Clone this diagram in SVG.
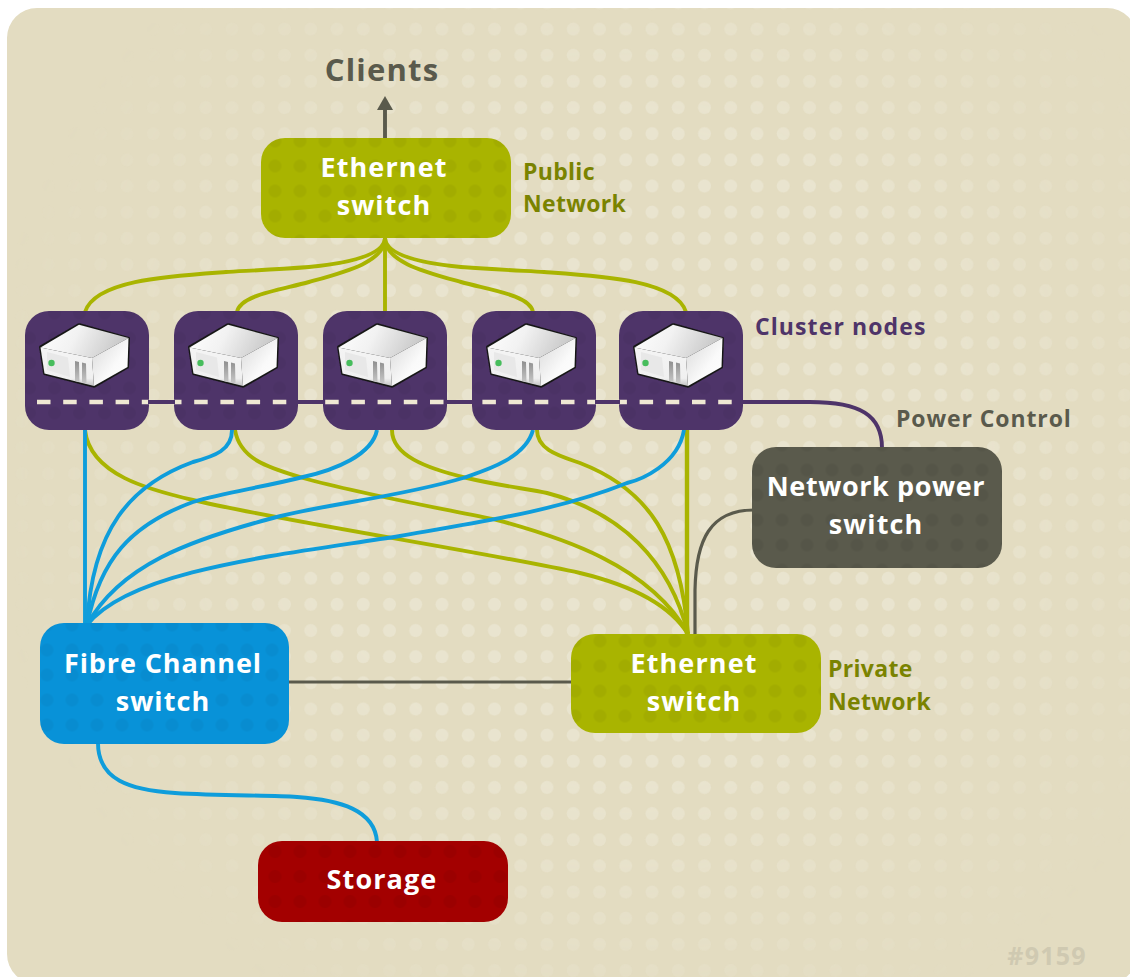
<svg xmlns="http://www.w3.org/2000/svg" width="1130" height="977" viewBox="0 0 1130 977">
<style>
.t{font-family:"Open Sans","Liberation Sans",sans-serif;font-weight:700;text-anchor:middle}
.w{fill:#fff;font-size:27px;letter-spacing:1.1px}
.w2{letter-spacing:.6px}
.o{fill:#7a8300;font-size:23px;letter-spacing:.3px;text-anchor:start}
.p{fill:#4e3469;font-size:23px;letter-spacing:1.1px;text-anchor:start}
.g{fill:#5a5a4c;font-size:23px;letter-spacing:.9px;text-anchor:start}
.c{fill:none;stroke-width:3.9}
.lime{stroke:#a9b400}.blue{stroke:#0f9ddb}.dark{stroke:#5a5a4c}.pur{stroke:#4e3469}
.n{rx:24px}
</style>
<defs>
<pattern id="dots" width="26.25" height="26.15" patternUnits="userSpaceOnUse" x="9" y="16"><circle cx="13" cy="13" r="6.5" fill="#e9e4cf"/></pattern>
<pattern id="d-eth" width="25" height="25" patternUnits="userSpaceOnUse" x="-12.5" y="3.5"><circle cx="12.5" cy="12.5" r="6.5" fill="#000" fill-opacity=".045"/></pattern>
<pattern id="d-fc" width="25" height="25" patternUnits="userSpaceOnUse" x="9.5" y="-12.5"><circle cx="12.5" cy="12.5" r="6.5" fill="#000" fill-opacity=".04"/></pattern>
<pattern id="d-st" width="25" height="25" patternUnits="userSpaceOnUse" x="-12.5" y="-11"><circle cx="12.5" cy="12.5" r="6.5" fill="#000" fill-opacity=".05"/></pattern>
<pattern id="d-pw" width="25" height="25" patternUnits="userSpaceOnUse" x="-5.5" y="7.5"><circle cx="12.5" cy="12.5" r="6.5" fill="#000" fill-opacity=".05"/></pattern>
<pattern id="d-pu" width="25" height="25" patternUnits="userSpaceOnUse" x="-8" y="0.5"><circle cx="12.5" cy="12.5" r="6.5" fill="#000" fill-opacity=".035"/></pattern>
<radialGradient id="fade" gradientUnits="userSpaceOnUse" cx="620" cy="450" r="640"><stop offset="0" stop-color="#fff"/><stop offset=".5" stop-color="#fff"/><stop offset="1" stop-color="#000"/></radialGradient>
<mask id="m"><rect width="1130" height="977" fill="url(#fade)"/></mask>
<filter id="soft" x="-10%" y="-10%" width="120%" height="120%"><feGaussianBlur stdDeviation=".6"/></filter>
<linearGradient id="top" x1="0" y1="0" x2="1" y2="0.2"><stop offset="0" stop-color="#fff"/><stop offset=".45" stop-color="#f2f2f2"/><stop offset="1" stop-color="#c8c8c8"/></linearGradient>
<linearGradient id="side" x1="0" y1="0" x2="1" y2="1"><stop offset="0" stop-color="#d8d8d8"/><stop offset=".6" stop-color="#fafafa"/><stop offset="1" stop-color="#fff"/></linearGradient>
<linearGradient id="front" x1="0" y1="0" x2="0" y2="1"><stop offset="0" stop-color="#f4f4f4"/><stop offset=".8" stop-color="#f0f0f0"/><stop offset="1" stop-color="#c4c4c4"/></linearGradient>
<linearGradient id="slot" x1="0" y1="0" x2="0" y2="1"><stop offset="0" stop-color="#8f8f8f"/><stop offset="1" stop-color="#c8c8c8"/></linearGradient>
<symbol id="srv" width="92" height="66" viewBox="0 0 92 66" overflow="visible">
<g filter="url(#soft)">
<path d="M0 24 Q0 23 1 22.5 L39 0.5 Q40 0 41 0.3 L90 14 Q91 14.3 91 15 L90 44 Q90 45 89 45.5 L57 64 Q56 65 54 64.5 L5 52 Q4 51.5 4 50 Z" fill="#181818"/>
<path d="M1.5 24.5 L40 1.8 L89.5 15 L53 35 Z" fill="url(#top)"/>
<path d="M53 35 L89.5 15 L88.5 44 L55 63 Z" fill="url(#side)"/>
<path d="M1.5 24.5 L53 35 L55 63 L5.5 50.5 Z" fill="url(#front)"/>
<path d="M8 29 L29 34.5 L31 54 L8 47 Z" fill="#e8e8e8"/>
<circle cx="12.5" cy="40" r="3.2" fill="#46bd5c"/>
<path d="M36 38 L40 39 L40.5 59 L36 58 Z M43 39.5 L47 40.5 L47.5 60.5 L43 59.5 Z" fill="url(#slot)"/>
</g>
</symbol>
</defs>
<rect width="1130" height="977" fill="#fff"/>
<rect id="bg" x="7" y="8" width="1130" height="976" rx="30" fill="#e3dcc1"/>
<rect x="7" y="8" width="1123" height="969" fill="url(#dots)" mask="url(#m)"/>

<g id="connectors">
<path class="c dark" d="M385 140 V106"/>
<path d="M385 96 L393 110 H377 Z" fill="#5a5a4c"/>
<g class="c lime">
<path d="M385 238 C384 255 350 263 309 267 C270 270 240 271 226 272 C170 276 95 280 85 312"/>
<path d="M385 238 C385 262 345 272 309 282 C280 290 240 295 237 312"/>
<path d="M385 238 V312"/>
<path d="M385 238 C385 262 425 272 461 282 C490 290 530 295 533 312"/>
<path d="M385 238 C386 255 420 263 461 267 C500 270 530 271 544 272 C600 276 676 280 686 312"/>
<path d="M85 430 C90 475 150 490 193 500 C260 517 500 555 580 573 C630 585 670 605 688 634"/>
<path d="M235 430 C240 460 270 468 303 478 C360 494 450 510 497 520 C560 537 650 565 688 634"/>
<path d="M392 430 C392 455 425 468 467 478 C500 486 530 489 547 493 C620 512 670 560 688 634"/>
<path d="M537 430 C537 450 560 456 580 463 C650 490 680 540 688 634"/>
<path d="M687 430 V634" stroke-width="4.4"/>
</g>
<g class="c blue">
<path d="M85 430 V625"/>
<path d="M232 430 C232 450 215 456 193 462 C130 485 92 530 87 625"/>
<path d="M377 430 C372 455 335 470 303 477 C260 488 225 492 193 502 C130 525 100 560 87 625"/>
<path d="M533 430 C525 460 480 472 463 478 C400 497 320 505 273 518 C190 540 120 565 87 625"/>
<path d="M684 430 C678 465 640 480 627 483 C560 510 480 522 400 536 C280 555 130 570 87 625"/>
<path d="M98 743 C98 780 130 790 175 793 C220 796 270 795 297 797 C340 800 375 810 377 842"/>
</g>
<path class="c pur" d="M742 402 H810 C860 402 882 415 882 448"/>
<path class="c dark" d="M695 635 V590 C696 540 710 510 754 510" style="stroke-width:3.2"/>
<path class="c dark" d="M288 682 H572" style="stroke-width:3.2"/>
</g>

<g id="eth-public"><rect class="n" x="261" y="138" width="250" height="100" fill="#a9b400"/><rect class="n" x="261" y="138" width="250" height="100" fill="url(#d-eth)"/><text class="t w" x="384" y="177">Ethernet</text><text class="t w" x="384" y="215">switch</text></g>
<text class="t o" x="523" y="180">Public</text><text class="t o" x="523" y="212">Network</text>
<text class="t" x="382" y="81" fill="#5a5a4c" font-size="31" letter-spacing="1.2">Clients</text>

<g id="node1"><rect class="n" x="25" y="311" width="124" height="119" fill="#4e3469"/><rect class="n" x="25" y="311" width="124" height="119" fill="url(#d-pu)"/><use href="#srv" x="39" y="323"/></g>
<g id="node2"><rect class="n" x="174" y="311" width="124" height="119" fill="#4e3469"/><rect class="n" x="174" y="311" width="124" height="119" fill="url(#d-pu)"/><use href="#srv" x="188" y="323"/></g>
<g id="node3"><rect class="n" x="323" y="311" width="124" height="119" fill="#4e3469"/><rect class="n" x="323" y="311" width="124" height="119" fill="url(#d-pu)"/><use href="#srv" x="337" y="323"/></g>
<g id="node4"><rect class="n" x="472" y="311" width="124" height="119" fill="#4e3469"/><rect class="n" x="472" y="311" width="124" height="119" fill="url(#d-pu)"/><use href="#srv" x="486" y="323"/></g>
<g id="node5"><rect class="n" x="619" y="311" width="124" height="119" fill="#4e3469"/><rect class="n" x="619" y="311" width="124" height="119" fill="url(#d-pu)"/><use href="#srv" x="633" y="323"/></g>
<path d="M37 402 H733" fill="none" stroke="#efe8d3" stroke-width="4.4" stroke-dasharray="13.5 12.7"/>
<path class="c pur" d="M148 402 H175 M297 402 H324 M446 402 H473 M595 402 H620"/>
<text class="t p" x="755" y="335">Cluster nodes</text>
<text class="t g" x="896" y="427">Power Control</text>

<g id="power"><rect class="n" x="752" y="447" width="250" height="121" fill="#5a5a4c"/><rect class="n" x="752" y="447" width="250" height="121" fill="url(#d-pw)"/><text class="t w w2" x="876" y="496">Network power</text><text class="t w" x="876" y="534">switch</text></g>
<g id="fc"><rect class="n" x="40" y="623" width="249" height="121" fill="#0892d8"/><rect class="n" x="40" y="623" width="249" height="121" fill="url(#d-fc)"/><text class="t w" style="letter-spacing:.9px" x="163" y="673">Fibre Channel</text><text class="t w" x="163" y="711">switch</text></g>
<g id="eth-private"><rect class="n" x="571" y="634" width="250" height="99" fill="#a9b400"/><rect class="n" x="571" y="634" width="250" height="99" fill="url(#d-eth)"/><text class="t w" x="694" y="673">Ethernet</text><text class="t w" x="694" y="711">switch</text></g>
<text class="t o" x="828" y="677">Private</text><text class="t o" x="828" y="710">Network</text>
<g id="storage"><rect class="n" x="258" y="841" width="250" height="81" fill="#a30000"/><rect class="n" x="258" y="841" width="250" height="81" fill="url(#d-st)"/><text class="t w" x="382" y="889">Storage</text></g>
<text class="t" x="1047" y="965" fill="#cfc9b1" font-size="25" letter-spacing="1.2">#9159</text>
</svg>
